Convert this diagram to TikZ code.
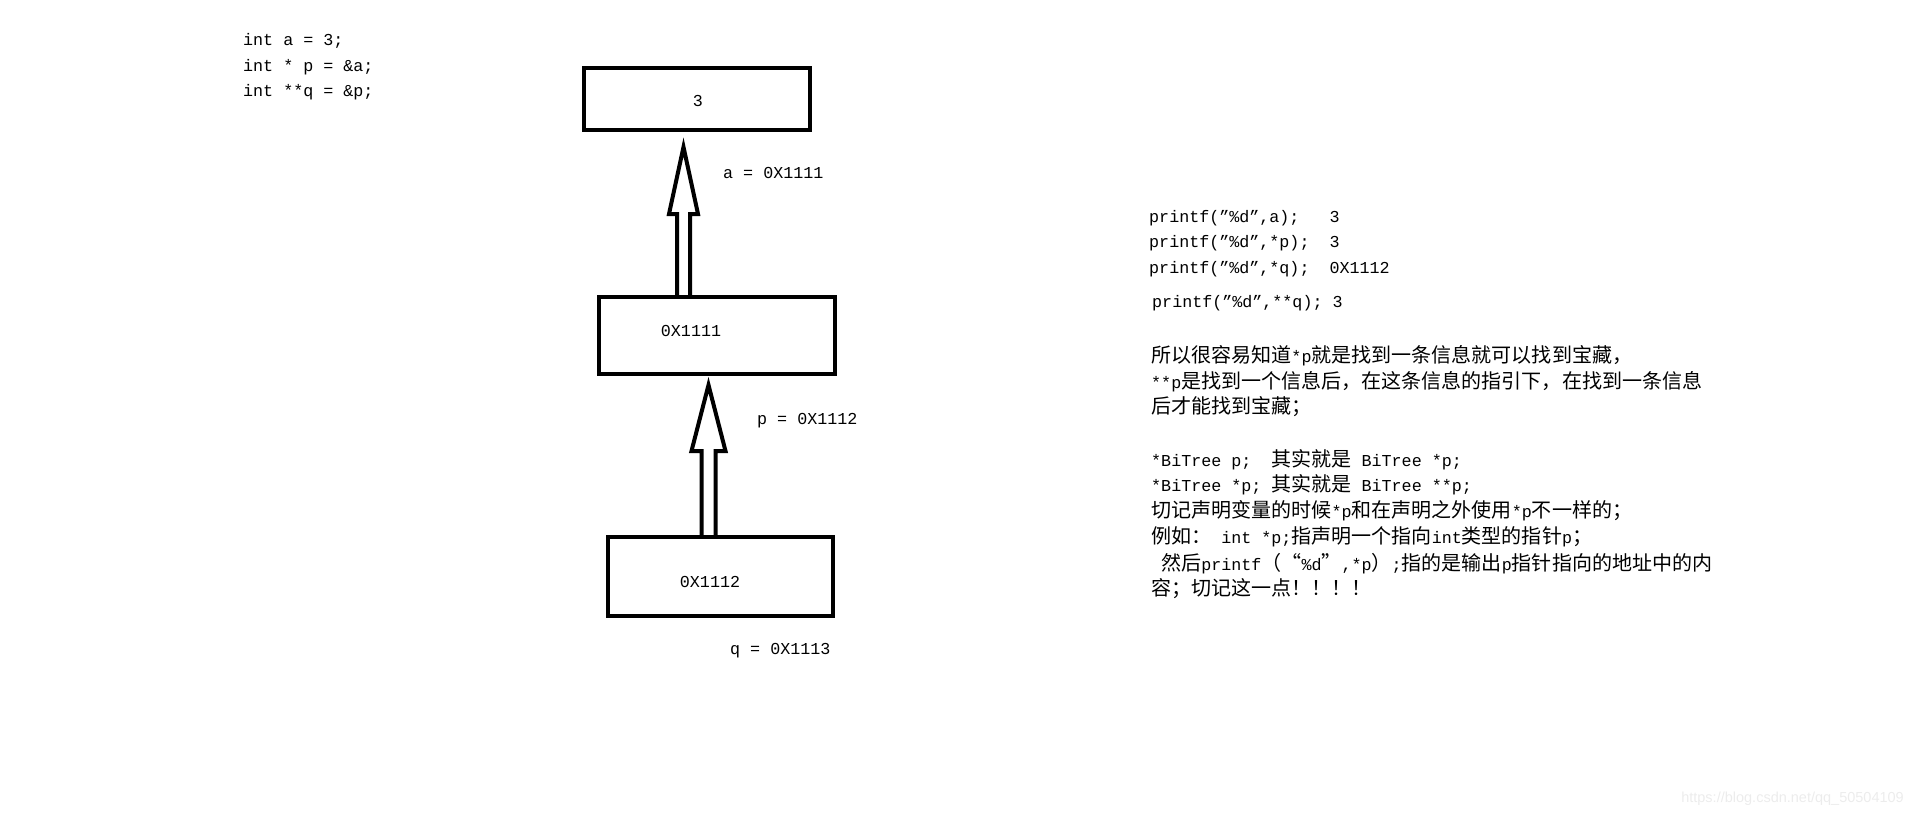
\documentclass[tikz,border=0pt]{standalone}
\usepackage{fontspec}
\setmainfont{Liberation Mono}
\newfontfamily\cjk{Noto Sans CJK SC}[Scale=1.2]
\newfontfamily\wmfont{Liberation Sans}
\usetikzlibrary{calc}

\newcommand{\hollowarrow}[5]{%
  \draw[hollow] ($(#1)+(-#3,0)$) -- ($(#2)+(-#3,#5)$) -- ($(#2)+(-#4,#5)$) -- (#2)
    -- ($(#2)+(#4,#5)$) -- ($(#2)+(#3,#5)$) -- ($(#1)+(#3,0)$);}

\begin{document}
\begin{tikzpicture}[x=1pt, y=-1pt,
  cell/.style={draw, line width=4pt, inner sep=0pt},
  txt/.style={anchor=base west, inner sep=0pt, font=\fontsize{16.7pt}{20pt}\selectfont},
  val/.style={anchor=base, inner sep=0pt, font=\fontsize{16.7pt}{20pt}\selectfont},
  hollow/.style={line width=4pt, line join=miter}]
\useasboundingbox (0,0) rectangle (1914,817);
\node[txt] (da) at (243,45) {int a = 3;};
\node[txt] (dp) at (243,71) {int * p = \&a;};
\node[txt] (dq) at (243,96) {int **q = \&p;};
\node[cell, minimum width=226pt, minimum height=62pt] (va) at (697,99) {};
\node[cell, minimum width=236pt, minimum height=77pt] (vp) at (717,335.5) {};
\node[cell, minimum width=225pt, minimum height=79pt] (vq) at (720.5,576.5) {};
\node[val] (na) at (698,106) {3};
\node[val] (np) at (691,336) {0X1111};
\node[val] (nq) at (710,587) {0X1112};
\node[txt] (la) at (723,178) {a = 0X1111};
\node[txt] (lp) at (757,424) {p = 0X1112};
\node[txt] (lq) at (730,654) {q = 0X1113};
\coordinate (tipa) at (683.5,147);
\coordinate (tipp) at (708.5,385);
\foreach \t/\b/\s/\h/\l in {tipa/vp/6.5/14.5/67, tipp/vq/7/17/66}
  \hollowarrow{\t |- \b.north}{\t}{\s}{\h}{\l};
\node[txt] (pa) at (1149,222) {printf("\%d",a);~~~3};
\node[txt] (pp) at (1149,247) {printf("\%d",*p);~~3};
\node[txt] (pq) at (1149,273) {printf("\%d",*q);~~0X1112};
\node[txt] (pqq) at (1152,307) {printf("\%d",**q);~3};
\node[txt] (c1) at (1151,362) {{\cjk 所以很容易知道}*p{\cjk 就是找到一条信息就可以找到宝藏，}};
\node[txt] (c2) at (1151,388) {**p{\cjk 是找到一个信息后，在这条信息的指引下，在找到一条信息}};
\node[txt] (c3) at (1151,413) {{\cjk 后才能找到宝藏；}};
\node[txt] (b1) at (1151,466) {*BiTree p;~~{\cjk 其实就是} BiTree *p;};
\node[txt] (b2) at (1151,491) {*BiTree *p; {\cjk 其实就是} BiTree **p;};
\node[txt] (b3) at (1151,517) {{\cjk 切记声明变量的时候}*p{\cjk 和在声明之外使用}*p{\cjk 不一样的；}};
\node[txt] (b4) at (1151,543) {{\cjk 例如：} int *p;{\cjk 指声明一个指向}int{\cjk 类型的指针}p{\cjk ；}};
\node[txt] (b5) at (1151,570) {\ {\cjk 然后}printf{\cjk （“}\%d{\cjk ”},*p{\cjk ）};{\cjk 指的是输出}p{\cjk 指针指向的地址中的内}};
\node[txt] (b6) at (1151,595) {{\cjk 容；切记这一点！！！！}};
\node[anchor=east, inner sep=0pt, text=gray!15, font=\wmfont\fontsize{14.5pt}{16pt}\selectfont] (wm) at (1904,799) {https://blog.csdn.net/qq\_50504109};
\end{tikzpicture}
\end{document}
